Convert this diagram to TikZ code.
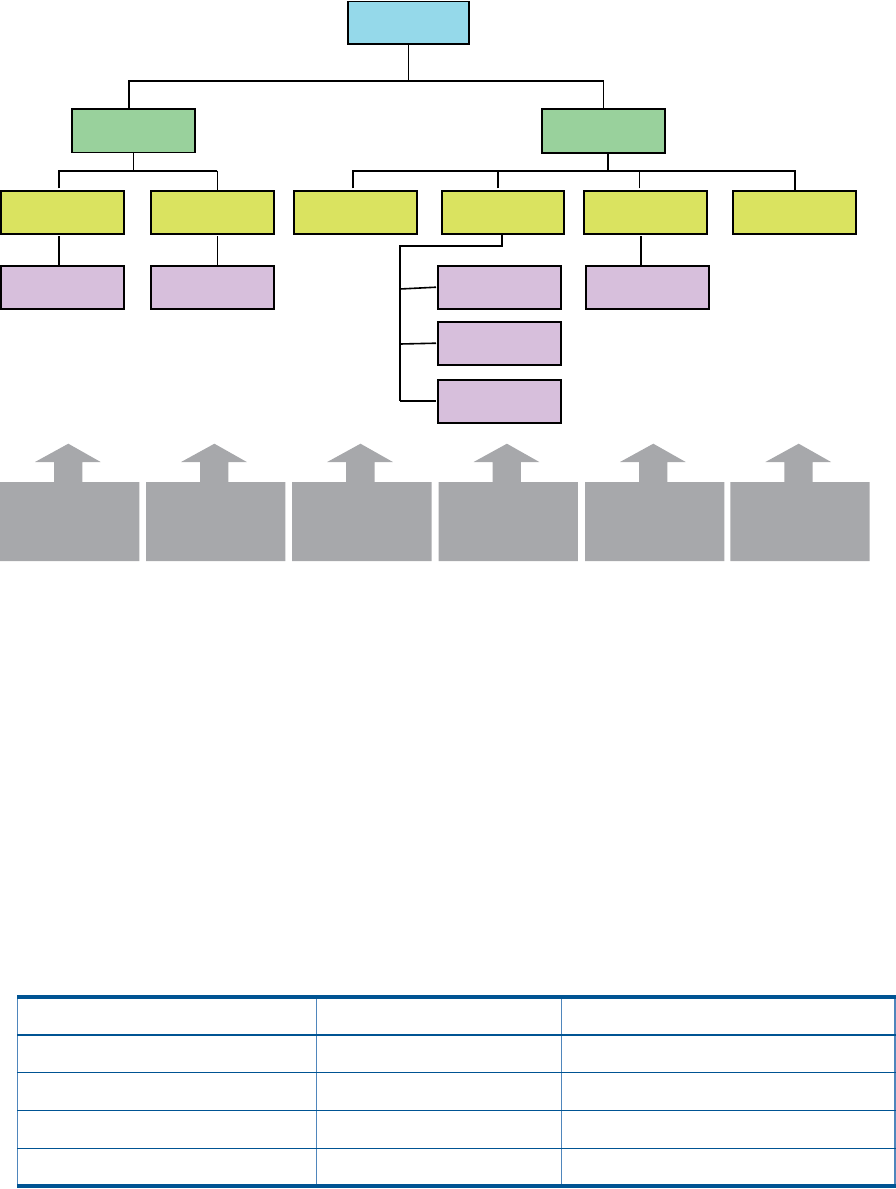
\documentclass[tikz,border=0pt]{standalone}
\definecolor{cyanbox}{HTML}{95D9EA}
\definecolor{greenbox}{HTML}{99D19C}
\definecolor{yellowbox}{HTML}{DAE360}
\definecolor{purplebox}{HTML}{D7BFDC}
\definecolor{arrowgray}{HTML}{A7A8AB}
\definecolor{tblue}{HTML}{005493}
\definecolor{tbluelight}{HTML}{4F86BC}
\begin{document}
\begin{tikzpicture}[x=1pt,y=-1pt,
  box/.style={draw=black, line width=1.6pt, inner sep=0pt, outer sep=0pt, anchor=north west},
  rootbox/.style={box, fill=cyanbox, minimum width=121.3pt, minimum height=42.2pt},
  greenboxst/.style={box, fill=greenbox, minimum width=123.3pt, minimum height=43.8pt},
  yellowboxst/.style={box, fill=yellowbox, minimum height=43.3pt},
  purpleboxst/.style={box, fill=purplebox, minimum height=43pt},
  conn/.style={draw=black, line width=1.6pt},
  thinconn/.style={draw=black, line width=1pt},
  grayblock/.style={fill=arrowgray},
  tthick/.style={draw=tblue, line width=4pt},
  tmid/.style={draw=tblue, line width=2pt},
  tthin/.style={draw=tblue, line width=1.2pt},
  tvert/.style={draw=tbluelight, line width=1.1pt}]
\useasboundingbox (0,0) rectangle (896,1189);

% ---- boxes ----
\node[rootbox] (root) at (347.7,1.5) {};
\node[greenboxst] (gL) at (71.7,108.7) {};
\node[greenboxst, minimum height=44.3pt] (gR) at (541.7,108.7) {};

\node[yellowboxst, minimum width=123.3pt] (y1) at (0.8,190.7) {};
\node[yellowboxst, minimum width=123pt] (y2) at (151,190.7) {};
\node[yellowboxst, minimum width=123.3pt] (y3) at (293.7,190.7) {};
\node[yellowboxst, minimum width=122pt] (y4) at (442,190.7) {};
\node[yellowboxst, minimum width=123.3pt] (y5) at (583.7,190.7) {};
\node[yellowboxst, minimum width=123pt] (y6) at (733,190.7) {};

\node[purpleboxst, minimum width=123.3pt] (p1) at (0.8,265.7) {};
\node[purpleboxst, minimum width=123pt] (p2) at (151,265.7) {};
\node[purpleboxst, minimum width=123pt] (p5) at (586,265.7) {};
\node[purpleboxst, minimum width=123.3pt] (p4a) at (437.7,265.7) {};
\node[purpleboxst, minimum width=123.3pt] (p4b) at (437.7,321.7) {};
\node[purpleboxst, minimum width=123.3pt] (p4c) at (437.7,379.7) {};

% ---- connectors ----
\draw[conn] (root.south) -- (root.south |- 0,81) coordinate (b0);
\draw[conn] ([xshift=-4.6pt]gL.north) |- (b0) -| (gR.north);

% left green bus
\draw[conn] (gL.south) -- (gL.south |- 0,170.7) coordinate (b1);
\coordinate (y1t) at ([xshift=-3.5pt,yshift=2.4pt]y1.north);
\coordinate (y2t) at ([xshift=4.8pt]y2.north);
\draw[conn] (y1t) |- (b1) -- (y2t |- b1);
\draw[thinconn] (y2t |- b1) -- (y2t);

% right green bus
\coordinate (gRs) at ([xshift=4.6pt]gR.south);
\draw[conn] (gRs) -- (gRs |- 0,171) coordinate (b2);
\coordinate (y3t) at ([xshift=-2.6pt,yshift=2.4pt]y3.north);
\coordinate (y4t) at ([xshift=-5.3pt,yshift=2.4pt]y4.north);
\coordinate (y5t) at ([xshift=-6pt,yshift=2.4pt]y5.north);
\coordinate (y6t) at ([xshift=0.5pt]y6.north);
\draw[conn] (y3t) |- (b2) -| (y6t);
\draw[conn] (y4t) -- (y4t |- b2);
\draw[conn] (y5t) -- (y5t |- b2);

% yellow to purple
\coordinate (y1b) at ([xshift=-3.5pt,yshift=-2pt]y1.south);
\draw[conn] (y1b) -- (y1b |- p1.north);
\coordinate (y2b) at ([xshift=4.8pt,yshift=-2pt]y2.south);
\draw[thinconn] (y2b) -- (y2b |- p2.north);
\coordinate (y5b) at ([xshift=-4.5pt,yshift=-2pt]y5.south);
\draw[conn] (y5b) -- (y5b |- p5.north);

% yellow 4 to stacked purple
\coordinate (y4b) at ([xshift=-1pt]y4.south);
\draw[conn] (y4b) -- ++(0,11.7) -| (400,401) coordinate (stk);
\draw[conn] (400,289) -- ([xshift=-1.7pt]p4a.west);
\draw[conn] (400,344) -- ([xshift=-1.7pt]p4b.west);
\draw[conn] (stk) -- ([xshift=-1.7pt]p4c.west |- stk);

% ---- gray blocks with arrows ----
\foreach \L in {0,146.1,292.2,438.6,585,730.4}{
  \fill[grayblock] (\L,482) -- (\L+54,482) -- (\L+54,462) -- (\L+35,462)
    -- (\L+68.3,443.7) -- (\L+100.7,462) -- (\L+82.3,462) -- (\L+82.3,482)
    -- (\L+139.3,482) -- (\L+139.3,561) -- (\L,561) -- cycle;
}

% ---- table ----
\draw[tvert] (17.7,997) -- (17.7,1186);
\draw[tvert] (316.3,997) -- (316.3,1186);
\draw[tvert] (561.7,997) -- (561.7,1186);
\draw[tvert] (895,997) -- (895,1186);
\draw[tthick] (17.2,997) -- (896,997);
\draw[tmid] (17.2,1035.2) -- (896,1035.2);
\draw[tthin] (17.2,1072.3) -- (896,1072.3);
\draw[tthin] (17.2,1110.3) -- (896,1110.3);
\draw[tthin] (17.2,1148.3) -- (896,1148.3);
\draw[draw=tblue, line width=3.7pt] (17.2,1185.8) -- (896,1185.8);
\end{tikzpicture}
\end{document}
